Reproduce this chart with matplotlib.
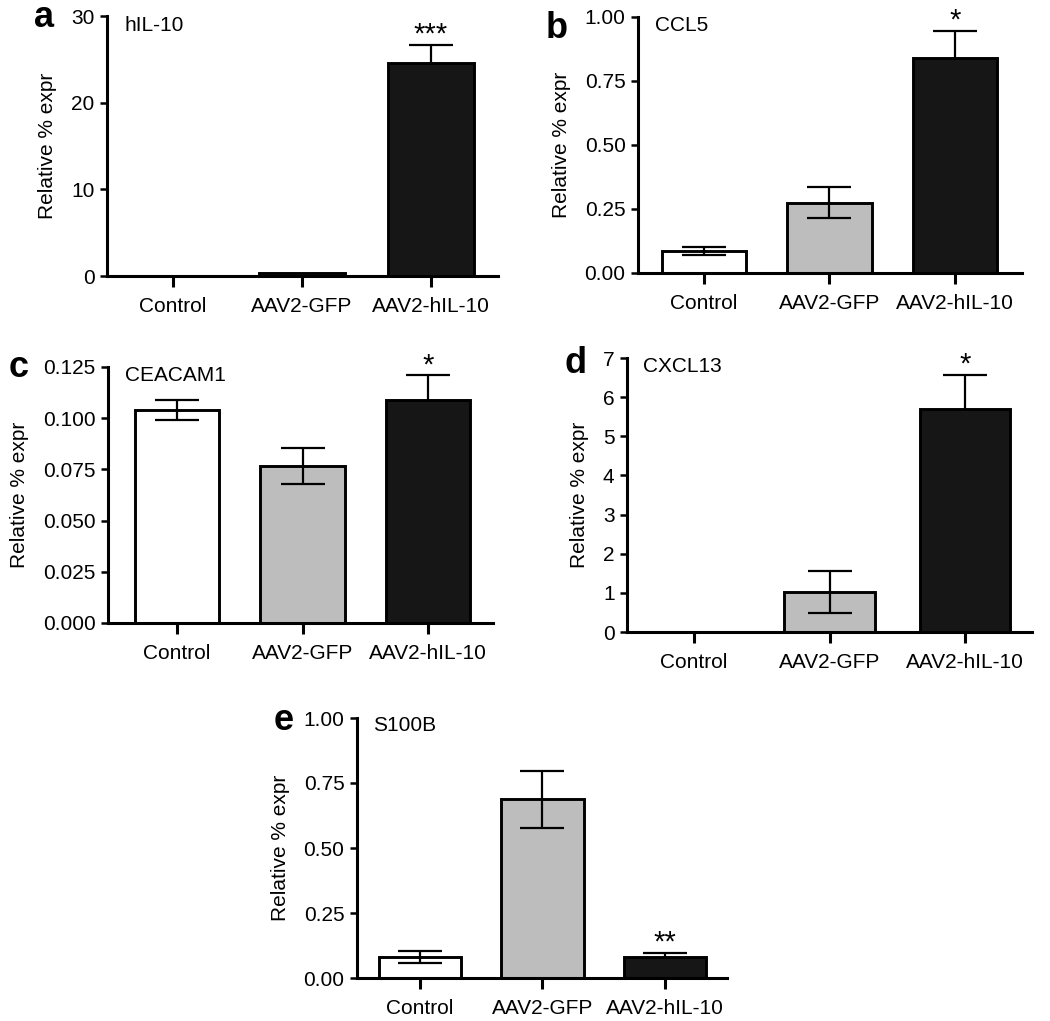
import matplotlib
matplotlib.use("Agg")
import matplotlib.pyplot as plt
from matplotlib.ticker import FormatStrFormatter

plt.rcParams['font.family'] = ['Liberation Sans', 'DejaVu Sans']

groups = ["Control", "AAV2-GFP", "AAV2-hIL-10"]
bar_colors = ["#ffffff", "#bdbdbd", "#161616"]

il10_mean = [0.0, 0.3, 24.6]
il10_err = [0.0, 0.0, 2.1]
ccl5_mean = [0.085, 0.275, 0.84]
ccl5_err = [0.015, 0.06, 0.105]
ceacam1_mean = [0.104, 0.0765, 0.109]
ceacam1_err = [0.0048, 0.0088, 0.012]
cxcl13_mean = [0.0, 1.02, 5.7]
cxcl13_err = [0.0, 0.54, 0.87]
s100b_mean = [0.081, 0.687, 0.08]
s100b_err = [0.023, 0.11, 0.016]

W, H = 1050, 1021


def fx(px):
    return px / W


def fy(py):
    return 1 - py / H


fig = plt.figure(figsize=(10.5, 10.21), dpi=100)


def panel(box, xlim, means, errs, ymax, yticks, fmt, letter, letter_xy, gene, gene_xy, star):
    left, right, top, bottom = box
    ax = fig.add_axes([fx(left), fy(bottom), fx(right - left), (bottom - top) / H])
    x = list(range(len(groups)))
    ax.bar(x, means, width=0.67, color=bar_colors, edgecolor="black", linewidth=2.1, zorder=2)
    for i in x:
        if errs[i] > 0:
            # on the dark bar only the upper half of the error bar shows
            z = 1 if i == 2 else 3
            ax.errorbar(i, means[i], yerr=errs[i], color="black", elinewidth=1.6,
                        capsize=16, capthick=1.6, zorder=z)
    ax.set_xlim(*xlim)
    ax.set_ylim(0, ymax)
    ax.set_yticks(yticks)
    ax.yaxis.set_major_formatter(FormatStrFormatter(fmt))
    ax.set_xticks(x)
    ax.set_xticklabels(groups)
    for s in ["top", "right"]:
        ax.spines[s].set_visible(False)
    for s in ["left", "bottom"]:
        ax.spines[s].set_linewidth(2.2)
        ax.spines[s].set_zorder(4)
    ax.tick_params(axis="y", length=5, width=1.8, pad=4, labelsize=15)
    ax.tick_params(axis="x", length=8, width=2.2, pad=7, labelsize=15)
    ax.set_ylabel("Relative % expr", fontsize=15, labelpad=10)
    # significance stars above the hIL-10 error bar
    ax.annotate(star, (2, means[2] + errs[2]), xytext=(0, 1.5), textcoords="offset points",
                ha="center", va="baseline", fontsize=21)
    fig.text(fx(letter_xy[0]), fy(letter_xy[1]), letter, fontsize=26, fontweight="bold",
             va="baseline", ha="left")
    fig.text(fx(gene_xy[0]), fy(gene_xy[1]), gene, fontsize=15, va="baseline", ha="left")
    return ax


panel((107, 498, 16, 276), (-0.51, 2.52), il10_mean, il10_err, 30, [0, 10, 20, 30], "%d",
      "a", (34, 27), "hIL-10", (125, 31), "***")
panel((638, 1022, 17, 273), (-0.526, 2.534), ccl5_mean, ccl5_err, 1.0,
      [0, 0.25, 0.5, 0.75, 1.0], "%.2f", "b", (546, 38), "CCL5", (655, 31), "*")
panel((108, 493, 367, 623), (-0.55, 2.518), ceacam1_mean, ceacam1_err, 0.125,
      [0, 0.025, 0.05, 0.075, 0.1, 0.125], "%.3f", "c", (9, 377), "CEACAM1", (125, 381), "*")
panel((627, 1032, 358, 632), (-0.494, 2.494), cxcl13_mean, cxcl13_err, 7,
      [0, 1, 2, 3, 4, 5, 6, 7], "%d", "d", (564, 373), "CXCL13", (643, 372), "*")
panel((357, 727, 718, 978), (-0.514, 2.506), s100b_mean, s100b_err, 1.0,
      [0, 0.25, 0.5, 0.75, 1.0], "%.2f", "e", (274, 730), "S100B", (373, 731), "**")

fig.savefig("out.png", dpi=100)
